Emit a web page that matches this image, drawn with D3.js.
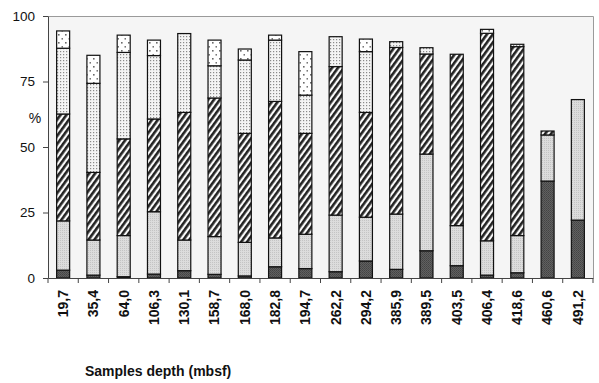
<!DOCTYPE html>
<html>
<head>
<meta charset="utf-8">
<script src="https://cdn.jsdelivr.net/npm/d3@7"></script>
<style>
  body { margin: 0; background: #fff; }
  text { font-family: "Liberation Sans", Arial, sans-serif; }
</style>
</head>
<body>
<div id="chart"></div>
<script>
// sample depths (mbsf) and the five stacked fractions, bottom to top
var depths = ["19,7", "35,4", "64,0", "106,3", "130,1", "158,7", "168,0", "182,8", "194,7",
              "262,2", "294,2", "385,9", "389,5", "403,5", "406,4", "418,6", "460,6", "491,2"];
var darkPart   = [3.0, 1.1, 0.5, 1.5, 2.8, 1.4, 0.8, 4.3, 3.6, 2.4, 6.5, 3.3, 10.4, 4.7, 1.1, 2.0, 37.0, 22.1];
var greyPart   = [18.8, 13.4, 15.7, 23.8, 11.7, 14.4, 12.8, 11.0, 13.1, 21.6, 16.7, 21.1, 36.9, 15.3, 13.1, 14.2, 17.6, 46.0];
var hatchPart  = [40.8, 25.8, 36.9, 35.4, 48.7, 52.9, 41.6, 52.1, 38.5, 56.7, 40.0, 63.6, 38.2, 65.4, 79.2, 72.1, 1.5, 0];
var densePart  = [25.1, 34.0, 33.0, 24.2, 30.1, 12.3, 28.0, 23.4, 14.6, 11.4, 23.2, 2.2, 2.4, 0, 0, 0.9, 0, 0];
var sparsePart = [6.6, 10.7, 6.6, 5.9, 0, 9.8, 4.2, 1.9, 16.6, 0, 4.8, 0, 0, 0, 1.5, 0, 0, 0];
var yTicks = [0, 25, 50, 75, 100];

var keys = ["dark", "grey", "hatch", "dense", "sparse"];
var data = depths.map(function (d, i) {
    return { depth: d, dark: darkPart[i], grey: greyPart[i], hatch: hatchPart[i],
             dense: densePart[i], sparse: sparsePart[i] };
});

var plotLeft = 48, plotRight = 593, plotTop = 16, plotBottom = 278;

var svg = d3.select("#chart").append("svg").attr("width", 599).attr("height", 383);

// fill patterns
var defs = svg.append("defs");

var pDark = defs.append("pattern").attr("id", "p-dark").attr("patternUnits", "userSpaceOnUse")
    .attr("width", 2).attr("height", 2);
pDark.append("rect").attr("width", 2).attr("height", 2).attr("fill", "#606060");
pDark.append("rect").attr("width", 1).attr("height", 1).attr("fill", "#444");
pDark.append("rect").attr("x", 1).attr("y", 1).attr("width", 1).attr("height", 1).attr("fill", "#4c4c4c");

var pGrey = defs.append("pattern").attr("id", "p-grey").attr("patternUnits", "userSpaceOnUse")
    .attr("width", 2).attr("height", 2);
pGrey.append("rect").attr("width", 2).attr("height", 2).attr("fill", "#dcdcdc");
pGrey.append("rect").attr("width", 1).attr("height", 1).attr("fill", "#c4c4c4");

var pHatch = defs.append("pattern").attr("id", "p-hatch").attr("patternUnits", "userSpaceOnUse")
    .attr("width", 4.8).attr("height", 10).attr("patternTransform", "rotate(36)");
pHatch.append("rect").attr("width", 4.8).attr("height", 10).attr("fill", "#fafafa");
pHatch.append("rect").attr("width", 2.6).attr("height", 10).attr("fill", "#222");

var pDense = defs.append("pattern").attr("id", "p-dense").attr("patternUnits", "userSpaceOnUse")
    .attr("width", 3).attr("height", 3);
pDense.append("rect").attr("width", 3).attr("height", 3).attr("fill", "#f4f4f4");
pDense.append("rect").attr("width", 1.2).attr("height", 1.2).attr("fill", "#8a8a8a");

var pSparse = defs.append("pattern").attr("id", "p-sparse").attr("patternUnits", "userSpaceOnUse")
    .attr("width", 7).attr("height", 8);
pSparse.append("rect").attr("width", 7).attr("height", 8).attr("fill", "#fff");
pSparse.append("rect").attr("x", 2).attr("y", 2).attr("width", 1.6).attr("height", 1.6).attr("fill", "#6a6a6a");
pSparse.append("rect").attr("x", 5.5).attr("y", 6).attr("width", 1.6).attr("height", 1.6).attr("fill", "#777");

var fills = { dark: "url(#p-dark)", grey: "url(#p-grey)", hatch: "url(#p-hatch)",
              dense: "url(#p-dense)", sparse: "url(#p-sparse)" };

// scales
var x = d3.scaleBand().domain(depths).range([plotLeft, plotRight]).paddingInner(0.57).paddingOuter(0.285);
var y = d3.scaleLinear().domain([0, 100]).range([plotBottom, plotTop]);

// plot area background and frame
svg.append("rect").attr("x", plotLeft).attr("y", plotTop)
    .attr("width", plotRight - plotLeft).attr("height", plotBottom - plotTop)
    .attr("fill", "#f5f5f5");
svg.append("path")
    .attr("d", "M" + plotLeft + "," + (plotTop + 0.5) + "H" + (plotRight + 0.5) + "V" + plotBottom)
    .attr("fill", "none").attr("stroke", "#9a9a9a").attr("stroke-width", 1);

// stacked bars
var series = d3.stack().keys(keys)(data);
svg.append("g").selectAll("g")
    .data(series)
    .enter()
    .append("g")
    .attr("fill", function (s) { return fills[s.key]; })
    .selectAll("rect")
    .data(function (s) { return s.filter(function (d) { return d[1] - d[0] > 0; }); })
    .enter()
    .append("rect")
    .attr("x", function (d) { return x(d.data.depth); })
    .attr("y", function (d) { return y(d[1]); })
    .attr("width", x.bandwidth())
    .attr("height", function (d) { return y(d[0]) - y(d[1]); })
    .attr("stroke", "#111")
    .attr("stroke-width", 1.2);

// y axis
var yAxis = d3.axisLeft(y).tickValues(yTicks).tickSize(5).tickSizeOuter(0).tickPadding(8);
var gy = svg.append("g").attr("transform", "translate(" + plotLeft + ",0)").call(yAxis);
gy.select(".domain").attr("stroke", "#444");
gy.selectAll(".tick line").attr("stroke", "#444");
gy.selectAll("text").style("font-size", "13.5px").attr("fill", "#111");

svg.append("text").attr("x", 35).attr("y", 118).attr("dy", "0.35em")
    .attr("text-anchor", "middle").style("font-size", "14px").attr("fill", "#111").text("%");

// x axis: labels at bar centres, ticks between bars
var xAxis = d3.axisBottom(x).tickSize(0).tickSizeOuter(0);
var gx = svg.append("g").attr("transform", "translate(0," + plotBottom + ")").call(xAxis);
gx.select(".domain").attr("stroke", "#444");
gx.selectAll("text")
    .attr("transform", "rotate(-90)")
    .attr("x", -12).attr("y", 0).attr("dy", "0.35em")
    .style("text-anchor", "end")
    .style("font-size", "14px").style("font-weight", "bold").attr("fill", "#111");

var gap = (x.step() - x.bandwidth()) / 2;
var bounds = depths.map(function (d) { return x(d) - gap; })
    .concat([x(depths[depths.length - 1]) + x.bandwidth() + gap]);
svg.append("g").selectAll("line")
    .data(bounds)
    .enter()
    .append("line")
    .attr("x1", function (d) { return d; }).attr("x2", function (d) { return d; })
    .attr("y1", plotBottom).attr("y2", plotBottom + 5)
    .attr("stroke", "#444");

svg.append("text").attr("x", 85).attr("y", 376)
    .style("font-size", "14px").style("font-weight", "bold").attr("fill", "#111")
    .text("Samples depth (mbsf)");
</script>
</body>
</html>
